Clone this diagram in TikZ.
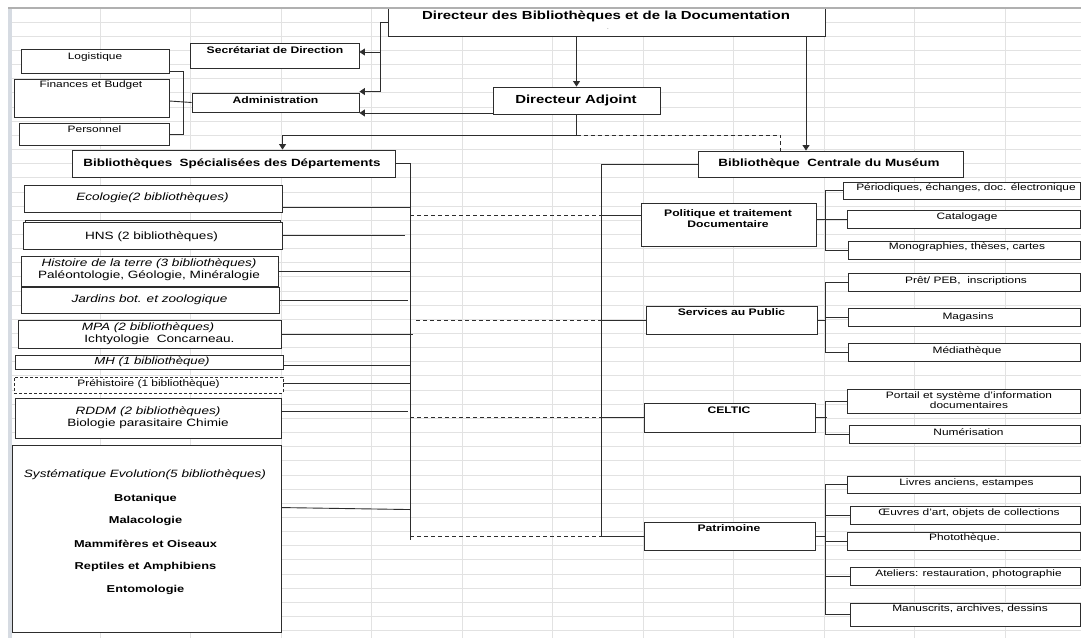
\documentclass[tikz,border=0pt]{standalone}
\usepackage{fontspec}
\setmainfont{Liberation Sans}[FakeStretch=1.28]
\usetikzlibrary{arrows.meta,calc,fit}

\definecolor{ink}{RGB}{45,45,45}
\definecolor{gridc}{RGB}{226,226,226}
\definecolor{edgec}{RGB}{176,176,176}
\definecolor{bandc}{RGB}{214,219,226}

\tikzset{
  box/.style={draw=ink, line width=0.9pt, fill=white, rectangle, inner sep=0pt},
  dbox/.style={box, dash pattern=on 3pt off 2pt},
  wire/.style={draw=ink, line width=0.9pt},
  dwire/.style={wire, dash pattern=on 4pt off 3pt},
  arr/.style={wire, -{Triangle[length=5.5pt,width=7pt]}},
  gridline/.style={draw=gridc, line width=0.9pt},
  txt/.style={inner sep=0pt, align=center},
  head/.style={txt, font=\fontsize{11.7}{13}\selectfont\bfseries},
  sub/.style={txt, font=\fontsize{10.5}{12}\selectfont\bfseries},
  unit/.style={txt, font=\fontsize{9.5}{11}\selectfont\bfseries},
  small/.style={txt, font=\fontsize{9.3}{10}\selectfont},
  dept/.style={txt, font=\fontsize{10.6}{12}\selectfont},
  depti/.style={txt, font=\fontsize{10.6}{12}\selectfont\itshape},
  sysb/.style={txt, font=\fontsize{10}{12}\selectfont\bfseries},
}

\begin{document}
\begin{tikzpicture}[x=1pt,y=-1pt]
\useasboundingbox (0,0) rectangle (1081,638);
\fill[white] (0,0) rectangle (1081,638);

\begin{scope}
\clip (8,8) rectangle (1081,638);

% sheet grid
\foreach \k in {1,...,11} \draw[gridline] ({10+90.45*\k},8) -- ({10+90.45*\k},638);
\foreach \k in {1,...,44} \draw[gridline] (8,{8+14.15*\k}) -- (1081,{8+14.15*\k});

% ---------- direction ----------
\node[box, fit={(388,-1)(825,36)}] (dbd) {};
\node[head] (dbd-t) at (606,16) {Directeur des Bibliothèques et de la Documentation};
\node[inner sep=0pt, text=gray, font=\fontsize{6}{6}\selectfont] (dbd-dot) at (608,29) {.};

\node[box, fit={(190,43)(359,68)}] (sec) {};
\node[unit] (sec-t) at (275,50) {Secrétariat de Direction};

\node[box, fit={(192,93)(359,112)}] (adm) {};
\node[unit] (adm-t) at (275.5,100) {Administration};

\node[box, fit={(21,49)(169,73)}] (log) {};
\node[small] (log-t) at (95,57) {Logistique};
\node[box, fit={(14,79)(169,117)}] (fin) {};
\node[small] (fin-t) at (91,85) {Finances et Budget};
\node[box, fit={(19,123)(169,145)}] (per) {};
\node[small] (per-t) at (94.5,129) {Personnel};

\node[box, fit={(493,87)(660,114)}] (da) {};
\node[head] (da-t) at (576,100) {Directeur Adjoint};

% ---------- two branches ----------
\node[box, fit={(72,150)(395,177)}] (bsd) {};
\node[sub] (bsd-t) at (232,164) {Bibliothèques\ \ Spécialisées des Départements};

\node[box, fit={(698,151)(963,177)}] (bcm) {};
\node[sub] (bcm-t) at (829,164) {Bibliothèque\ \ Centrale du Muséum};

% ---------- departmental libraries ----------
\node[box, fit={(24,185)(282,212)}] (eco) {};
\node[depti] (eco-t) at (152.5,198) {Ecologie(2 bibliothèques)};

\node[box, fit={(25,220)(280,236)}] (hns-back) {};
\node[box, fit={(23,222)(282,249)}] (hns) {};
\node[dept] (hns-t) at (151.5,237) {HNS (2 bibliothèques)};

\node[box, fit={(21,256)(278,286)}] (hdt) {};
\node[dept] (hdt-t) at (149,270) {\textit{Histoire de la terre (3 bibliothèques)}\\Paléontologie, Géologie, Minéralogie};

\node[box, fit={(21,287)(279,313)}] (jar) {};
\node[depti] (jar-t) at (149.5,300) {Jardins bot. et zoologique};

\node[box, fit={(18,320)(281,348)}] (mpa) {};
\node[depti] (mpa-t1) at (148,328) {MPA (2 bibliothèques)};
\node[dept] (mpa-t2) at (159.5,340) {Ichtyologie\ \ Concarneau.};

\node[box, fit={(15,355)(283,369)}] (mh) {};
\node[depti, font=\fontsize{10.3}{12}\selectfont\itshape] (mh-t) at (152,362) {MH (1 bibliothèque)};

\node[dbox, fit={(14,377)(283,393)}] (pre) {};
\node[small] (pre-t) at (148.5,384) {Préhistoire (1 bibliothèque)};

\node[box, fit={(15,398)(281,438)}] (rddm) {};
\node[dept] (rddm-t) at (148,418) {\textit{RDDM (2 bibliothèques)}\\Biologie parasitaire Chimie};

\node[box, fit={(12,445)(281,632)}] (sys) {};
\node[depti] (sys-t) at (145,475) {Systématique Evolution(5 bibliothèques)};
\node[sysb] (sys-t1) at (145.5,499) {Botanique};
\node[sysb] (sys-t2) at (145.5,521) {Malacologie};
\node[sysb] (sys-t3) at (145.5,544) {Mammifères et Oiseaux};
\node[sysb] (sys-t4) at (145.5,567) {Reptiles et Amphibiens};
\node[sysb] (sys-t5) at (145.5,590) {Entomologie};

% ---------- central library services ----------
\node[box, fit={(641,203)(816,246)}] (pol) {};
\node[unit, font=\fontsize{9.5}{11}\selectfont\bfseries] (pol-t) at (728,218.5) {Politique et traitement\\Documentaire};

\node[box, fit={(646,306)(817,334)}] (serv) {};
\node[unit] (serv-t) at (731.5,312) {Services au Public};

\node[box, fit={(644,403)(815,432)}] (cel) {};
\node[unit] (cel-t) at (729,410) {CELTIC};

\node[box, fit={(644,522)(815,550)}] (pat) {};
\node[unit] (pat-t) at (729,528) {Patrimoine};

\node[box, fit={(843,182)(1080,199)}] (per1) {};
\node[small] (per1-t) at (966,188) {Périodiques, échanges, doc. électronique};
\node[box, fit={(847,210)(1080,228)}] (cat) {};
\node[small] (cat-t) at (967,217) {Catalogage};
\node[box, fit={(848,241)(1080,259)}] (mono) {};
\node[small] (mono-t) at (967,247.5) {Monographies, thèses, cartes};

\node[box, fit={(848,273)(1080,291)}] (pret) {};
\node[small] (pret-t) at (966,281) {Prêt/ PEB,\ \ inscriptions};
\node[box, fit={(848,308)(1080,326)}] (mag) {};
\node[small] (mag-t) at (968,317) {Magasins};
\node[box, fit={(848,343)(1080,361)}] (med) {};
\node[small] (med-t) at (967,351) {Médiathèque};

\node[box, fit={(847,389)(1080,413)}] (por) {};
\node[small, font=\fontsize{9.3}{10}\selectfont] (por-t) at (969,400) {Portail et système d'information\\documentaires};
\node[box, fit={(849,425)(1080,443)}] (num) {};
\node[small] (num-t) at (968.5,432) {Numérisation};

\node[box, fit={(847,476)(1080,493)}] (liv) {};
\node[small] (liv-t) at (966.5,483) {Livres anciens, estampes};
\node[box, fit={(850,506)(1080,524)}] (oeu) {};
\node[small] (oeu-t) at (969,513) {Œuvres d'art, objets de collections};
\node[box, fit={(847,532)(1080,550)}] (pho) {};
\node[small] (pho-t) at (964.5,538) {Photothèque.};
\node[box, fit={(850,567)(1080,585)}] (ate) {};
\node[small] (ate-t) at (968.5,574) {Ateliers: restauration, photographie};
\node[box, fit={(850,603)(1080,626)}] (man) {};
\node[small] (man-t) at (970,609) {Manuscrits, archives, dessins};

% ---------- connectors: direction ----------
\coordinate (jA) at (380,22);
\draw[arr] (dbd.west |- jA) -- (jA) |- ($(adm.north east)+(0,-1)$);
\draw[arr] (jA |- sec.east) ++(0,-3.5) -- ($(sec.east)+(0,-3.5)$);
\draw[arr] (dbd.south -| da.north) -- (da.north);
\draw[arr] ($(da.south west)+(0,-1.5)$) -- ($(da.south west -| adm.east)+(0,-1.5)$);
\coordinate (jB) at (806,0);
\draw[arr] (dbd.south -| jB) -- (bcm.north -| jB);

\draw[wire] (da.south) -- ++(0,21) coordinate (jC);
\draw[arr] (jC) -| ($(bsd.north west)+(211,0)$);
\draw[dwire] (jC) -| ($(bcm.north west)+(83,0)$);

% administration services
\coordinate (jD) at (183,0);
\draw[wire] ($(fin.east)+(0,3)$) -- (adm.west);
\draw[wire] ($(log.south east)+(0,-2)$) -| (jD |- per.east) -- (per.east);

% ---------- connectors: departmental bus ----------
\coordinate (lb) at (410,0);
\coordinate (lbEnd) at (410,540);
\coordinate (rb) at (601,0);
\draw[wire] (bsd.east) -| (lbEnd);

\coordinate (eA) at ($(eco.south east)+(0,-5)$);
\draw[wire] (eA) -- (eA -| lb);
\draw[wire] (hns.east) -- ($(hns.east -| lb)+(-5,0)$);
\draw[wire] (hdt.east) -- (hdt.east -| lb);
\draw[wire] (jar.east) -- ($(jar.east -| lb)+(-2,0)$);
\draw[wire] (mpa.east) -- ($(mpa.east -| lb)+(3,0)$);
\coordinate (mA) at ($(mh.east)+(0,3)$);
\draw[wire] (mA) -- (mA -| lb);
\coordinate (pA) at ($(pre.east)+(0,-2)$);
\draw[wire] (pA) -- (pA -| lb);
\coordinate (rA) at ($(rddm.north east)+(0,14)$);
\draw[wire] (rA) -- ($(rA -| lb)+(-2,0)$);
\coordinate (sA) at ($(sys.north east)+(0,63)$);
\coordinate (sB) at ($(sys.north east)+(129,65)$);
\draw[wire] (sA) -- (sB);

% ---------- connectors: central bus ----------
\draw[wire] (bcm.west) -| (rb |- pat.west) -- (pat.west);
\coordinate (polIn) at ($(pol.west)+(0,-9.5)$);
\draw[dwire] (lb |- polIn) -- (rb |- polIn);
\draw[wire] (rb |- polIn) -- (polIn);
\draw[dwire] ($(lb |- serv.west)+(6,0)$) -- (rb |- serv.west);
\draw[wire] (rb |- serv.west) -- (serv.west);
\draw[dwire] (lb |- cel.west) -- (rb |- cel.west);
\draw[wire] (rb |- cel.west) -- (cel.west);
\draw[dwire] (lb |- pat.west) -- (rb |- pat.west);

% ---------- connectors: service brackets ----------
\coordinate (bx) at (825,0);
\draw[wire] (pol.east |- cat.west) -- (cat.west);
\draw[wire] (per1.west) -| (bx |- mono.west) -- (mono.west);

\draw[wire] (serv.east) -- (serv.east -| bx);
\draw[wire] (pret.west) -| (bx |- med.west) -- (med.west);
\draw[wire] (bx |- mag.west) -- (mag.west);

\draw[wire] (cel.east) -- ($(cel.east -| bx)+(2,0)$);
\draw[wire] (por.west) -| (bx |- num.west) -- (num.west);

\draw[wire] (pat.east) -- (pat.east -| bx);
\draw[wire] (liv.west) -| (bx |- man.west) -- (man.west);
\draw[wire] (bx |- oeu.west) -- (oeu.west);
\draw[wire] (bx |- pho.west) -- (pho.west);
\draw[wire] (bx |- ate.west) -- (ate.west);
\end{scope}

% sheet frame
\fill[bandc] (8,8) rectangle (11.5,638);
\draw[edgec, line width=1.2pt] (8,8) -- (1081,8);
\end{tikzpicture}
\end{document}
